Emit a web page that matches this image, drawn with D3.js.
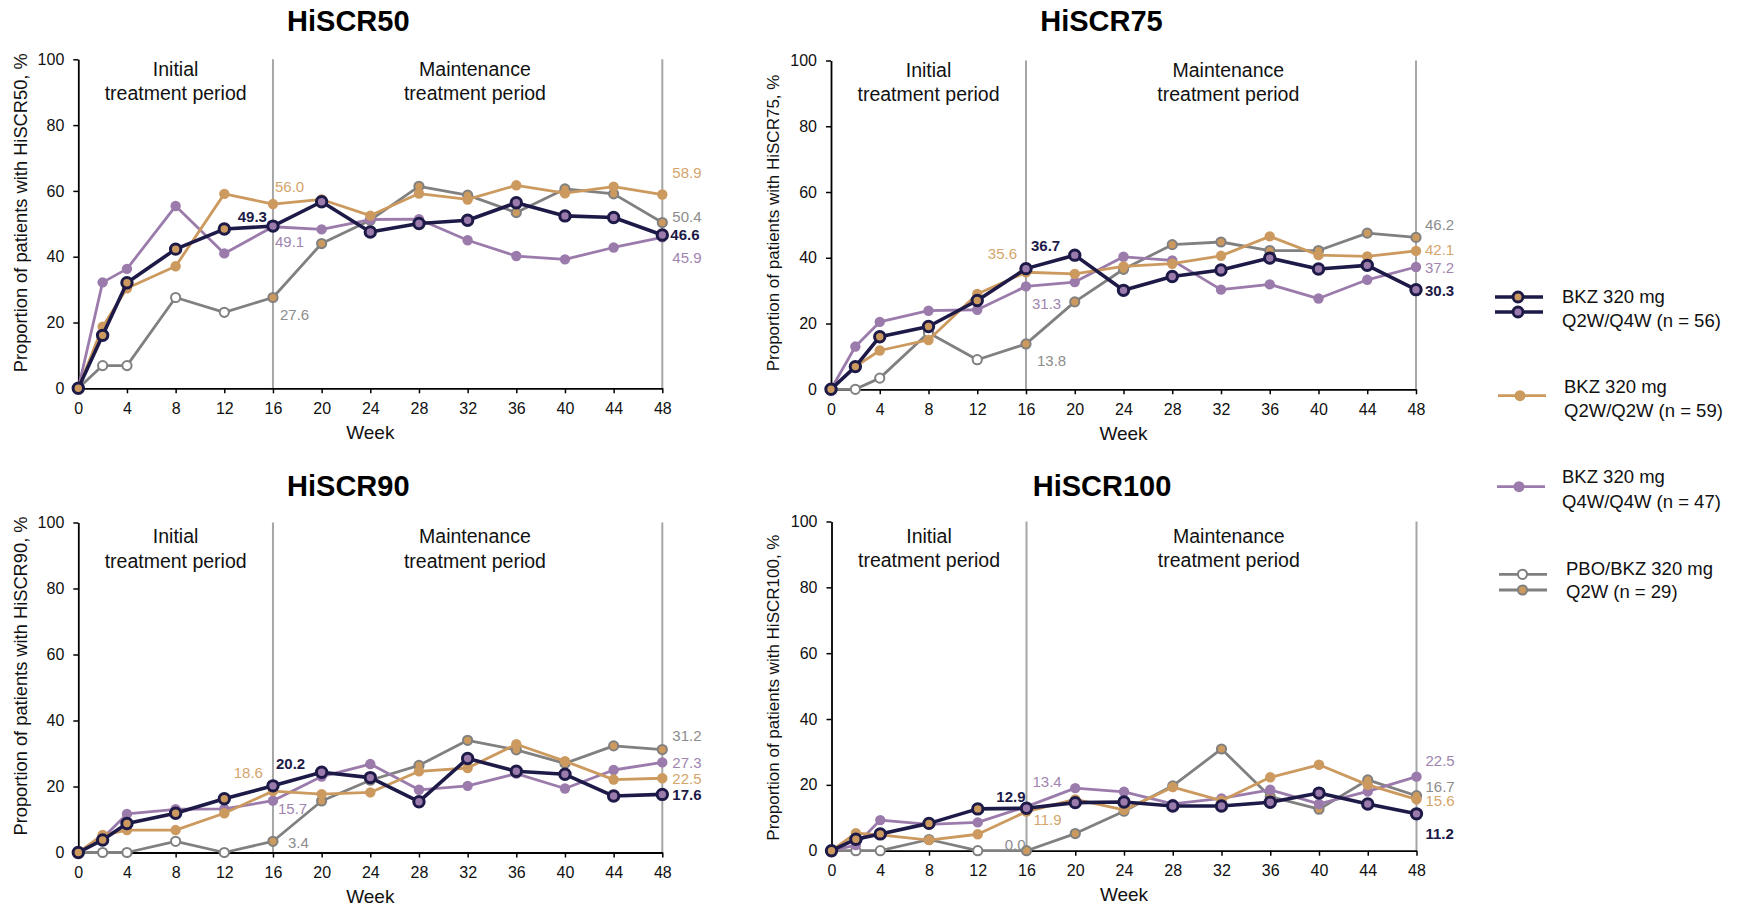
<!DOCTYPE html>
<html>
<head>
<meta charset="utf-8">
<script src="https://cdn.jsdelivr.net/npm/d3@7"></script>
<style>
  html, body { margin: 0; padding: 0; background: #fff; }
  svg { display: block; font-family: "Liberation Sans", Arial, sans-serif; }
</style>
</head>
<body>
<svg id="chart" width="1742" height="908"></svg>
<script>
// ---------------- DATA ----------------
const weeks = [0, 2, 4, 8, 12, 16, 20, 24, 28, 32, 36, 40, 44, 48];
const xTickWeeks = [0, 4, 8, 12, 16, 20, 24, 28, 32, 36, 40, 44, 48];
const yTickValues = [0, 20, 40, 60, 80, 100];
const chartTitles = ["HiSCR50", "HiSCR75", "HiSCR90", "HiSCR100"];
const yAxisTitles = [
  "Proportion of patients with HiSCR50, %",
  "Proportion of patients with HiSCR75, %",
  "Proportion of patients with HiSCR90, %",
  "Proportion of patients with HiSCR100, %"
];
const seriesKeys = ["q2wq4w", "q2wq2w", "q4wq4w", "pbo"];
const legendLines = [
  ["BKZ 320 mg", "Q2W/Q4W (n = 56)"],
  ["BKZ 320 mg", "Q2W/Q2W (n = 59)"],
  ["BKZ 320 mg", "Q4W/Q4W (n = 47)"],
  ["PBO/BKZ 320 mg", "Q2W (n = 29)"]
];
const periodLabels = [["Initial", "treatment period"], ["Maintenance", "treatment period"]];

// HiSCR50
const hiscr50_q2wq4w = [0, 16.1, 32.1, 42.3, 48.4, 49.3, 56.7, 47.5, 50.1, 51.1, 56.4, 52.4, 51.9, 46.6];
const hiscr50_q2wq2w = [0, 18.7, 30.4, 37.1, 59.1, 56.0, 57.4, 52.5, 59.2, 57.4, 61.7, 59.3, 61.3, 58.9];
const hiscr50_q4wq4w = [0, 32.2, 36.3, 55.4, 41.0, 49.1, 48.3, 51.3, 51.4, 45.0, 40.2, 39.2, 42.8, 45.9];
const hiscr50_pbo    = [0, 6.9, 6.9, 27.6, 23.1, 27.6, 44.0, 51.1, 61.4, 58.7, 53.4, 60.6, 59.1, 50.4];
// HiSCR75
const hiscr75_q2wq4w = [0, 6.9, 16.0, 19.1, 27.0, 36.7, 40.8, 30.1, 34.3, 36.3, 39.9, 36.6, 37.7, 30.3];
const hiscr75_q2wq2w = [0, 6.9, 11.8, 15.0, 29.0, 35.6, 35.1, 37.4, 38.2, 40.6, 46.5, 40.8, 40.4, 42.1];
const hiscr75_q4wq4w = [0, 13.0, 20.5, 23.9, 24.2, 31.3, 32.6, 40.3, 39.2, 30.3, 31.9, 27.6, 33.3, 37.2];
const hiscr75_pbo    = [0, 0, 3.4, 17.2, 9.0, 13.8, 26.6, 36.5, 44.0, 44.8, 42.2, 42.2, 47.5, 46.2];
// HiSCR90
const hiscr90_q2wq4w = [0, 3.8, 8.8, 11.9, 16.3, 20.2, 24.3, 22.7, 15.4, 28.5, 24.6, 23.7, 17.1, 17.6];
const hiscr90_q2wq2w = [0, 5.3, 6.8, 6.8, 11.9, 18.6, 17.7, 18.2, 24.6, 25.6, 32.8, 27.7, 22.1, 22.5];
const hiscr90_q4wq4w = [0, 4.3, 11.7, 13.1, 13.2, 15.7, 23.0, 26.8, 19.0, 20.2, 23.9, 19.4, 25.0, 27.3];
const hiscr90_pbo    = [0, 0, 0, 3.4, 0, 3.4, 15.6, 21.9, 26.4, 34.0, 31.1, 27.0, 32.3, 31.2];
// HiSCR100
const hiscr100_q2wq4w = [0, 3.5, 5.1, 8.3, 12.7, 12.9, 14.6, 14.8, 13.6, 13.6, 14.7, 17.5, 14.2, 11.2];
const hiscr100_q2wq2w = [0, 5.3, 4.8, 3.2, 5.0, 11.9, 15.6, 12.4, 19.3, 15.2, 22.3, 26.1, 20.0, 15.6];
const hiscr100_q4wq4w = [0, 1.7, 9.3, 8.0, 8.6, 13.4, 19.0, 17.9, 14.2, 15.9, 18.5, 14.2, 18.0, 22.5];
const hiscr100_pbo    = [0, 0, 0, 3.4, 0, 0.0, 5.2, 12.0, 19.7, 30.9, 16.4, 12.6, 21.5, 16.7];

// ---------------- STYLE / LAYOUT ----------------
const colors = { q2wq4w: "#1d1a48", q2wq2w: "#cc9a5f", q4wq4w: "#9b7bab", pbo: "#808080" };
const labelColors = { q2wq4w: "#1d1a48", q2wq2w: "#d4a56c", q4wq4w: "#a185b0", pbo: "#8c8c8c" };
const periodLineColor = "#a6a6a6";

const panels = [
  { left: 78.3, right: 662.3, top: 59.3, bottom: 388.3, yLabelX: 21, yLabelFs: 18.3, yLabelOff: 16, periodDy: [10, 34], xTitleDy: 51, titleY: 31 },
  { left: 831, right: 1416, top: 60.5, bottom: 389.3, yLabelX: 773, yLabelFs: 17, yLabelOff: 18, periodDy: [10, 34], xTitleDy: 51, titleY: 31 },
  { left: 78.3, right: 662.3, top: 522.5, bottom: 852.5, yLabelX: 21, yLabelFs: 18.3, yLabelOff: 17, periodDy: [14, 39], xTitleDy: 50, titleY: 495.5 },
  { left: 831.5, right: 1416.5, top: 521.5, bottom: 850.7, yLabelX: 773, yLabelFs: 17, yLabelOff: 10, periodDy: [15, 39], xTitleDy: 50, titleY: 495.5 }
];
const titleShift = -22;
const periodCenters = [8, 32.6];

// value labels: [seriesKey, week, dx, dy, anchor]
const valueLabelLayout = [
  [ ["q2wq2w",16,2,-17,"start"], ["q2wq4w",16,-6,-9.5,"end"], ["q4wq4w",16,2,14.5,"start"], ["pbo",16,7,17,"start"],
    ["q2wq2w",48,10,-21.5,"start"], ["pbo",48,10,-5.5,"start"], ["q2wq4w",48,8,0,"start"], ["q4wq4w",48,10,20,"start"] ],
  [ ["q2wq2w",16,-9,-18.5,"end"], ["q2wq4w",16,5,-22.5,"start"], ["q4wq4w",16,6,17.5,"start"], ["pbo",16,11,17,"start"],
    ["pbo",48,9,-12.5,"start"], ["q2wq2w",48,9,-1.3,"start"], ["q4wq4w",48,9,1,"start"], ["q2wq4w",48,9,1,"start"] ],
  [ ["q2wq2w",16,-10,-18,"end"], ["q2wq4w",16,3,-22,"start"], ["q4wq4w",16,5,8,"start"], ["pbo",16,15,1,"start"],
    ["pbo",48,10,-13.5,"start"], ["q4wq4w",48,10,0,"start"], ["q2wq2w",48,10,0,"start"], ["q2wq4w",48,10,0.5,"start"] ],
  [ ["q4wq4w",16,6,-25,"start"], ["q2wq4w",16,-1,-11,"end"], ["q2wq2w",16,7,8.5,"start"], ["pbo",16,-1,-6,"end"],
    ["q4wq4w",48,9,-16,"start"], ["pbo",48,9,-8.5,"start"], ["q2wq2w",48,9,1.5,"start"], ["q2wq4w",48,9,20,"start"] ]
];

const chartData = [
  { q2wq4w: hiscr50_q2wq4w, q2wq2w: hiscr50_q2wq2w, q4wq4w: hiscr50_q4wq4w, pbo: hiscr50_pbo },
  { q2wq4w: hiscr75_q2wq4w, q2wq2w: hiscr75_q2wq2w, q4wq4w: hiscr75_q4wq4w, pbo: hiscr75_pbo },
  { q2wq4w: hiscr90_q2wq4w, q2wq2w: hiscr90_q2wq2w, q4wq4w: hiscr90_q4wq4w, pbo: hiscr90_pbo },
  { q2wq4w: hiscr100_q2wq4w, q2wq2w: hiscr100_q2wq2w, q4wq4w: hiscr100_q4wq4w, pbo: hiscr100_pbo }
];

const svg = d3.select("#chart");
const drawOrder = ["pbo", "q4wq4w", "q2wq2w", "q2wq4w"];

panels.forEach((p, i) => {
  const x = d3.scaleLinear().domain([0, 48]).range([p.left, p.right]);
  const y = d3.scaleLinear().domain([0, 100]).range([p.bottom, p.top]);
  const g = svg.append("g");

  // title
  g.append("text").attr("x", (p.left + p.right) / 2 + titleShift).attr("y", p.titleY)
    .attr("text-anchor", "middle").attr("font-size", 29).attr("font-weight", "bold")
    .attr("fill", "#000").text(chartTitles[i]);

  // period lines
  [16, 48].forEach(w => {
    g.append("line").attr("x1", x(w)).attr("x2", x(w)).attr("y1", y(100)).attr("y2", y(0))
      .attr("stroke", periodLineColor).attr("stroke-width", 2);
  });

  // period labels
  periodLabels.forEach((lines, k) => {
    lines.forEach((t, j) => {
      g.append("text").attr("x", x(periodCenters[k])).attr("y", p.top + p.periodDy[j])
        .attr("dy", "0.35em").attr("text-anchor", "middle").attr("font-size", 19.5)
        .attr("fill", "#111").text(t);
    });
  });

  // axes
  const yAxis = g.append("g").attr("transform", `translate(${p.left},0)`)
    .call(d3.axisLeft(y).tickValues(yTickValues).tickSize(5).tickSizeOuter(0).tickPadding(9));
  const xAxis = g.append("g").attr("transform", `translate(0,${p.bottom})`)
    .call(d3.axisBottom(x).tickValues(xTickWeeks).tickSize(5).tickSizeOuter(0).tickPadding(9));
  [yAxis, xAxis].forEach(a => {
    a.select(".domain").attr("stroke", "#000").attr("stroke-width", 1.8);
    a.selectAll(".tick line").attr("stroke", "#000").attr("stroke-width", 1.5);
    a.selectAll(".tick text").attr("font-size", 16).attr("fill", "#111")
      .attr("font-family", '"Liberation Sans", Arial, sans-serif');
  });

  // axis titles
  g.append("text").attr("x", x(24)).attr("y", p.bottom + p.xTitleDy)
    .attr("text-anchor", "middle").attr("font-size", 19).attr("fill", "#111").text("Week");
  g.append("text").attr("transform", `translate(${p.yLabelX},${p.bottom - p.yLabelOff}) rotate(-90)`)
    .attr("text-anchor", "start").attr("dy", "0.35em").attr("font-size", p.yLabelFs).attr("fill", "#111")
    .text(yAxisTitles[i]);

  // series
  const data = chartData[i];
  const line = d3.line().x((d, k) => x(weeks[k])).y(d => y(d));
  drawOrder.forEach(key => {
    const vals = data[key];
    g.append("path").attr("d", line(vals)).attr("fill", "none")
      .attr("stroke", colors[key]).attr("stroke-width", key === "q2wq4w" ? 3.6 : 2.8)
      .attr("stroke-linejoin", "round");
    const pts = g.append("g").selectAll("circle").data(vals).join("circle")
      .attr("cx", (d, k) => x(weeks[k])).attr("cy", d => y(d));
    if (key === "q2wq4w") {
      pts.attr("r", 5.2).attr("stroke", colors.q2wq4w).attr("stroke-width", 3)
        .attr("fill", (d, k) => weeks[k] <= 12 ? colors.q2wq2w : colors.q4wq4w);
    } else if (key === "pbo") {
      pts.attr("r", 4.6).attr("stroke", colors.pbo).attr("stroke-width", 2)
        .attr("fill", (d, k) => weeks[k] <= 12 ? "#fff" : colors.q2wq2w);
    } else {
      pts.attr("r", 5.2).attr("fill", colors[key]);
    }
  });

  // value labels
  valueLabelLayout[i].forEach(([key, w, dx, dy, anchor]) => {
    const k = weeks.indexOf(w);
    const v = data[key][k];
    g.append("text").attr("x", x(w) + dx).attr("y", y(v) + dy).attr("dy", "0.35em")
      .attr("text-anchor", anchor).attr("font-size", 15)
      .attr("font-weight", key === "q2wq4w" ? "bold" : "normal")
      .attr("fill", labelColors[key]).text(d3.format(".1f")(v));
  });
});

// ---------------- LEGEND ----------------
const legendItems = [
  { key: "q2wq4w", lineYs: [297, 312], fills: [colors.q2wq2w, colors.q4wq4w], textX: 1562, textY: [302.5, 326.5], x1: 1495, x2: 1543, mx: 1518 },
  { key: "q2wq2w", lineYs: [395.7], fills: [colors.q2wq2w], textX: 1564, textY: [392.5, 416.5], x1: 1498, x2: 1546, mx: 1520 },
  { key: "q4wq4w", lineYs: [486.7], fills: [colors.q4wq4w], textX: 1562, textY: [483, 508], x1: 1497, x2: 1545, mx: 1519 },
  { key: "pbo", lineYs: [574.3, 590], fills: ["#fff", colors.q2wq2w], textX: 1566, textY: [575, 598.3], x1: 1499, x2: 1547, mx: 1522.5 }
];
const lg = svg.append("g");
legendItems.forEach((it, idx) => {
  it.lineYs.forEach((ly, j) => {
    lg.append("line").attr("x1", it.x1).attr("x2", it.x2).attr("y1", ly).attr("y2", ly)
      .attr("stroke", colors[it.key]).attr("stroke-width", it.key === "q2wq4w" ? 3.6 : 2.8);
    const c = lg.append("circle").attr("cx", it.mx).attr("cy", ly);
    if (it.key === "q2wq4w") c.attr("r", 5).attr("stroke", colors.q2wq4w).attr("stroke-width", 3).attr("fill", it.fills[j]);
    else if (it.key === "pbo") c.attr("r", 4.6).attr("stroke", colors.pbo).attr("stroke-width", 2).attr("fill", it.fills[j]);
    else c.attr("r", 5.5).attr("fill", it.fills[j]);
  });
  legendLines[idx].forEach((t, j) => {
    lg.append("text").attr("x", it.textX).attr("y", it.textY[j]).attr("font-size", 18.5)
      .attr("fill", "#111").text(t);
  });
});
</script>
</body>
</html>
